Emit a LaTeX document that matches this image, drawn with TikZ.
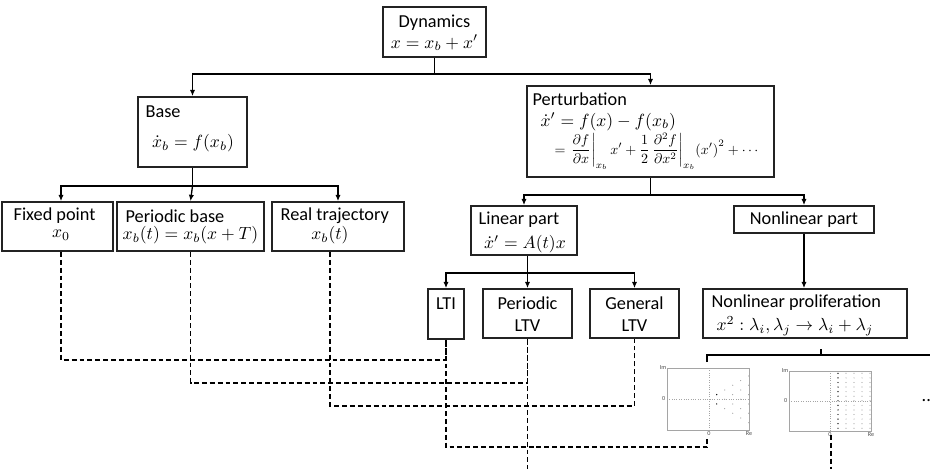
\documentclass[tikz,border=0pt]{standalone}
\usepackage[no-math]{fontspec}
\setmainfont{Carlito}
\usepackage{amsmath}
\usetikzlibrary{arrows.meta,fit}
\definecolor{boxgray}{RGB}{35,35,35}
\definecolor{plotgray}{RGB}{165,165,165}

\begin{document}
\begin{tikzpicture}[x=0.02cm, y=-0.02cm, line width=0.75pt, >={Latex[length=3.6pt,width=3pt]}]
		\tikzstyle{every node}=[font=\fontsize{10.4}{12.5}\selectfont, inner sep=0pt]
		\tikzstyle{box}=[draw=boxgray, line width=0.95pt, inner sep=0pt]
		\tikzstyle{link}=[dash pattern=on 2.8pt off 1.7pt, line width=0.75pt]
		\tikzstyle{tick}=[font=\fontsize{3.5}{4}\selectfont, text=black!70]
		\useasboundingbox (0,0) rectangle (930,468);

		% top
		\node[box, fit={(383,7) (486,57)}] (dyn) {};
		\node (dynttl) at (434.5,23) {Dynamics};
		\node (dyneq) at (434.5,43) {$x = x_b + x'$};

		\node[box, fit={(138,97) (247,167)}] (base) {};
		\node[anchor=west] (basettl) at (145,112) {Base};
		\node (baseeq) at (193,143) {$\dot{x}_b = f(x_b)$};

		\node[box, fit={(527,86) (774,177)}] (pert) {};
		\node[anchor=west] (pertttl) at (532,99) {Perturbation};
		\node[anchor=base west] (perteqa) at (540,126) {$\dot{x}' = f(x) - f(x_b)$};
		\node[anchor=base west, scale=0.8] (perteqb) at (554,154) {$\displaystyle = \left.\frac{\partial f}{\partial x}\right|_{x_b} x' + \frac{1}{2}\,\frac{\partial^2 f}{\partial x^2}\bigg|_{x_b} {(x')}^2 + \cdots$};

		\coordinate (dj) at (434.5,74);
		\draw (dyn.south) -- (dj);
		\draw[->] (dj) -| (base.north);
		\draw[->] (dj) -| (pert.north);

		% base branch
		\node[box, fit={(2,202) (113,251)}] (fixed) {};
		\node[anchor=west] (fixedttl) at (13,216) {Fixed point};
		\node (fixedeq) at (61,235) {$x_0$};

		\node[box, fit={(117,202) (264,251)}] (pb) {};
		\node[anchor=west] (pbttl) at (125,216) {Periodic base};
		\node (pbeq) at (190.5,235) {$x_b(t) = x_b(x+T)$};

		\node[box, fit={(272,202) (404,251)}] (rt) {};
		\node[anchor=west] (rtttl) at (280,216) {Real trajectory};
		\node (rteq) at (330,235) {$x_b(t)$};

		\coordinate (bj) at (192.5,186);
		\draw (base.south) -- (bj);
		\draw[->] (bj) -| (fixedeq |- fixed.north);
		\draw[->] (bj) -- (pb.north);
		\draw[->] (bj) -| (rt.north);

		% perturbation branch
		\node[box, fit={(471,206) (577,255)}] (lin) {};
		\node[anchor=west] (linttl) at (478,220) {Linear part};
		\node (lineq) at (525,244) {$\dot{x}' = A(t)x$};

		\node[box, fit={(734,206) (874,233)}] (nl) {};
		\node (nlttl) at (804,220) {Nonlinear part};

		\coordinate (pj) at (650.5,195);
		\draw (pert.south) -- (pj);
		\draw[->] (pj) -| (lin.north);
		\draw[->] (pj) -| (nl.north);

		\node[box, fit={(428,289) (464,339)}] (lti) {};
		\node (ltittl) at (446,304) {LTI};

		\node[box, fit={(483,289) (572,338)}] (pltv) {};
		\node[align=center] (pltvttl) at (527.5,314) {Periodic\\LTV};

		\node[box, fit={(590,289) (679,338)}] (gltv) {};
		\node[align=center] (gltvttl) at (634.5,314) {General\\LTV};

		\node[box, fit={(703,289) (907,338)}] (nlp) {};
		\node[anchor=west] (nlpttl) at (711,303) {Nonlinear proliferation};
		\node (nlpeq) at (795,326) {$x^2 : \lambda_i, \lambda_j \to \lambda_i + \lambda_j$};

		\coordinate (lj) at (527.5,273);
		\draw (pltv.north |- lin.south) -- (lj);
		\draw[->] (lj) -| (lti.north);
		\draw[->] (lj) -- (pltv.north);
		\draw[->] (lj) -| (gltv.north);
		\draw[->] (nl.south) -- (nl.south |- nlp.north);

		% spectra
		\draw[plotgray, line width=0.45pt] (667,368) rectangle (749,430);
		\draw[plotgray, densely dotted, line width=0.35pt] (709,368) -- (709,430);
		\draw[plotgray, densely dotted, line width=0.35pt] (667,399) -- (749,399);
		\foreach \k in {0,...,4}{
			\pgfmathtruncatemacro\ja{-\k-1}
			\pgfmathtruncatemacro\jb{-\k+1}
			\pgfmathtruncatemacro\jc{\k+1}
			\foreach \j in {\ja,\jb,...,\jc}{
				\ifnum\k=0
					\fill[black] (716.7+8*\k,399.3+4.67*\j) circle (0.4pt);
				\else
					\fill[plotgray] (716.7+8*\k,399.3+4.67*\j) circle (0.35pt);
				\fi
			}
		}
		\node[tick, anchor=east] (im1) at (667,368) {Im};
		\node[tick, anchor=east] (zy1) at (666,399) {0};
		\node[tick, anchor=north] (zx1) at (709,431) {0};
		\node[tick, anchor=north] (re1) at (749,431) {Re};

		\draw[plotgray, line width=0.45pt] (789,371) rectangle (871,431);
		\draw[plotgray, densely dotted, line width=0.35pt] (830,371) -- (830,431);
		\draw[plotgray, densely dotted, line width=0.35pt] (789,401) -- (871,401);
		\foreach \i in {0,...,12}{
			\fill[black] (838,373.3+4.58*\i) circle (0.4pt);
			\foreach \k in {1,...,4}
				\fill[plotgray] (838+8*\k,373.3+4.58*\i) circle (0.35pt);
		}
		\node[tick, anchor=east] (im2) at (789,371) {Im};
		\node[tick, anchor=east] (zy2) at (788,401) {0};
		\node[tick, anchor=north] (zx2) at (830,432) {0};
		\node[tick, anchor=north] (re2) at (871,432) {Re};
		\node[anchor=west] (more) at (921,401) {..};

		\draw[line width=0.6pt] (707,362) -- (707,355) -- (932,355);
		\draw[line width=0.6pt] (821,349) -- (821,355);

		% links between the two trees
		\coordinate (foot1) at (707,437);
		\coordinate (foot2) at (831,435);
		\coordinate (pend) at (527.5,470);
		\coordinate (send) at (831,470);
		\draw[link] (fixedeq |- fixed.south) -- ++(0,108) -| (lti.south);
		\draw[link] (pb.south) -- ++(0,131) -| (pltv.south);
		\draw[link] (rteq |- rt.south) -- ++(0,154) -| (gltv.south);
		\draw[link] (lti.south) |- (foot1 |- 0,447) -- (foot1);
		\draw[link] (pltv.south) -- (pend);
		\draw[link] (foot2) -- (send);
	\end{tikzpicture}
\end{document}
